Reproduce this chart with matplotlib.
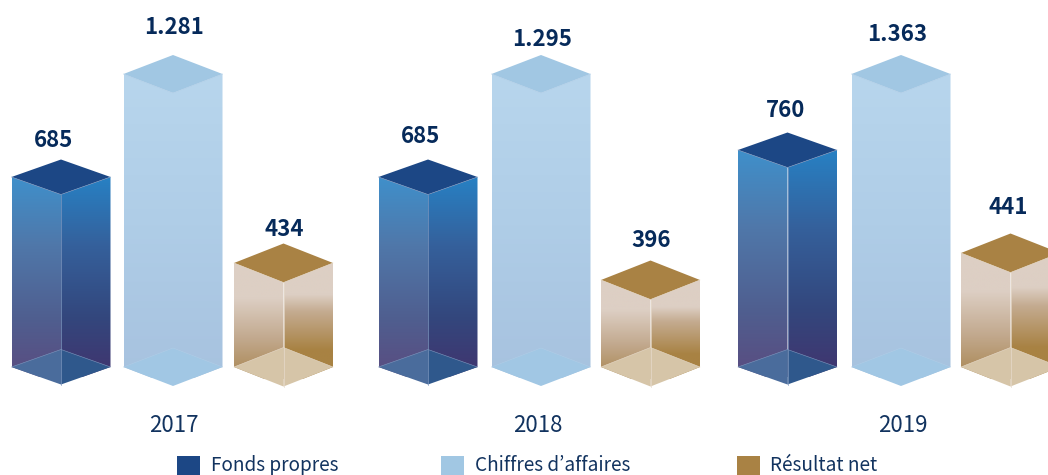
"""Pseudo-3D bars: Fonds propres / Chiffres d'affaires / Résultat net, 2017-2019."""

import matplotlib

matplotlib.use("Agg")
import matplotlib.pyplot as plt
import numpy as np
from matplotlib.colors import LinearSegmentedColormap
from matplotlib.patches import Polygon, Rectangle

years = ["2017", "2018", "2019"]
series_names = ["Fonds propres", "Chiffres d’affaires", "Résultat net"]

fonds_propres = [685, 685, 760]
chiffres_affaires = [1281, 1295, 1363]
resultat_net = [434, 396, 441]

# the bars are not to scale in the source, so drawn heights are read separately
fonds_heights = [190, 190, 217]
chiffres_heights = [293, 293, 293]
resultat_heights = [104, 87, 114]

# layout, in pixels of the 1048x475 picture
BASE_Y = 367
HALF_W = 49.5
# whole-pixel centres on the light bars, a half pixel leaves a seam between the faces
bar_centers = [[61, 173, 283.5], [428, 541, 650.5], [787.5, 901, 1010.5]]
depths = [17.5, 19, 19.5]
label_pos = [
    [(53.7, 138), (173.7, 25), (284.7, 227)],
    [(420.7, 134), (541.7, 37), (650.7, 238)],
    [(785.7, 108), (896.7, 32), (1007.7, 205)],
]
year_x = [174, 538, 903]
legend_x = [177, 441, 736.5]

NAVY = "#062a5a"
TEXT = "#12335f"

styles = [
    {
        "top": "#1c4785", "bottom_l": "#4a6c9c", "bottom_r": "#2f588c",
        "edge": "#7f98bf", "spine": True,
        "left": [(0, "#3f90cb"), (0.35, "#5077a9"), (0.7, "#4f5f90"), (1, "#5a4c80")],
        "right": [(0, "#2781c4"), (0.35, "#35609b"), (0.7, "#33477d"), (1, "#41346e")],
    },
    {
        "top": "#a1c7e3", "bottom_l": "#a1c7e4", "bottom_r": "#a1c7e4",
        "edge": "#b0cde7", "spine": False,
        "left": [(0, "#b8d6ed"), (0.5, "#afcde7"), (1, "#a7c2df")],
        "right": [(0, "#b8d6ed"), (0.5, "#afcde7"), (1, "#a7c2df")],
    },
    {
        "top": "#a98244", "bottom_l": "#d6c5a8", "bottom_r": "#d6c5a8",
        "edge": "#e6dacb", "spine": True,
        "left": [(0, "#ddcfc4"), (0.3, "#ddcfc4"), (0.65, "#c2a98e"), (1, "#a8854f")],
        "right": [(0, "#ddcfc4"), (0.27, "#ddcfc4"), (0.42, "#c4ab90"), (0.75, "#a88243"), (1, "#a88243")],
    },
]
legend_colors = ["#1c4785", "#a1c7e3", "#a98244"]


def gradient_face(ax, pts, stops, y0, y1):
    cmap = LinearSegmentedColormap.from_list("face", stops)
    xs = [p[0] for p in pts]
    grad = np.linspace(0, 1, 256).reshape(-1, 1)
    im = ax.imshow(
        grad, cmap=cmap, vmin=0, vmax=1, aspect="auto", origin="upper",
        extent=(min(xs), max(xs), y1, y0), zorder=2, interpolation="bilinear",
    )
    im.set_clip_path(Polygon(pts, closed=True, transform=ax.transData))


def draw_bar(ax, cx, height, depth, style):
    left, right = cx - HALF_W, cx + HALF_W
    top = BASE_Y - height
    front_top = top + depth
    front_base = BASE_Y + depth
    back_base = BASE_Y - depth

    gradient_face(ax, [(left, top), (cx, front_top), (cx, front_base), (left, BASE_Y)],
                  style["left"], top, front_base - depth * 0.4)
    gradient_face(ax, [(cx, front_top), (right, top), (right, BASE_Y), (cx, front_base)],
                  style["right"], top, front_base - depth * 0.4)

    # floor seen through the bar
    ax.add_patch(Polygon([(left, BASE_Y), (cx, back_base), (cx, front_base)],
                         facecolor=style["bottom_l"], edgecolor="none", zorder=3))
    ax.add_patch(Polygon([(right, BASE_Y), (cx, back_base), (cx, front_base)],
                         facecolor=style["bottom_r"], edgecolor="none", zorder=3))

    ax.add_patch(Polygon([(left, top), (cx, top - depth), (right, top), (cx, front_top)],
                         facecolor=style["top"], edgecolor="none", zorder=4))
    ax.plot([left, cx, right], [top, front_top, top], color=style["edge"], lw=0.4, zorder=5)
    if style["spine"]:
        ax.plot([cx, cx], [front_top, front_base], color=style["edge"], lw=0.5, zorder=5)
    ax.plot([left, cx, right], [BASE_Y, back_base, BASE_Y], color=style["edge"], lw=0.4, zorder=5)


fig = plt.figure(figsize=(10.48, 4.75), dpi=100, facecolor="white")
ax = fig.add_axes([0, 0, 1, 1])
ax.axis("off")

# KR cut keeps the apostrophe proportional, SC sets it full width
plt.rcParams["font.family"] = ["Noto Sans CJK KR", "DejaVu Sans"]

values = [fonds_propres, chiffres_affaires, resultat_net]
heights = [fonds_heights, chiffres_heights, resultat_heights]

for g in range(len(years)):
    for s in range(3):
        draw_bar(ax, bar_centers[g][s], heights[s][g], depths[s], styles[s])
        v = f"{values[s][g]:,}".replace(",", ".")
        lx, ly = label_pos[g][s]
        ax.text(lx, ly, v, ha="center", va="center_baseline", fontsize=16,
                fontweight="bold", color=NAVY, zorder=6)
    ax.text(year_x[g], 423, years[g], ha="center", va="center_baseline",
            fontsize=16, color=TEXT)

for x, name, color in zip(legend_x, series_names, legend_colors):
    ax.add_patch(Rectangle((x, 456), 23, 20, facecolor=color, edgecolor="none"))
    ax.text(x + 34, 471, name, ha="left", va="baseline", fontsize=13.7, color=TEXT)

ax.set_xlim(0, 1048)
ax.set_ylim(475, 0)

fig.savefig("out.png", dpi=100)
plt.close(fig)
